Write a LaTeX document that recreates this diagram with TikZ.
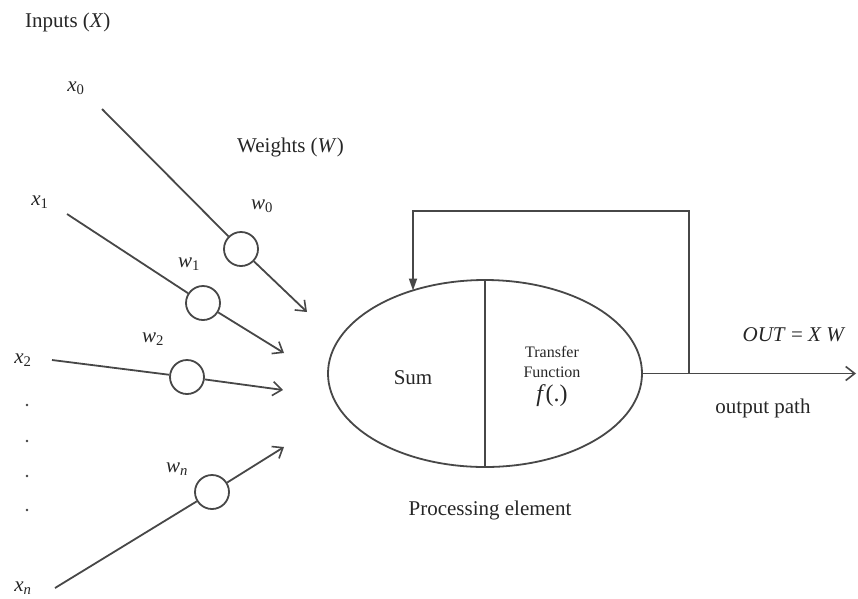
\documentclass[tikz,border=0pt]{standalone}
\usepackage{fontspec}
\setmainfont{Liberation Serif}
\usetikzlibrary{arrows.meta,shapes.geometric}
\newcommand{\iv}[2]{\textit{#1}\textsubscript{#2}}
\begin{document}
\begin{tikzpicture}[x=1pt,y=-1pt,
  ln/.style={draw=black!72,line width=1.8pt},
  wt/.style={circle,draw=black!72,line width=1.8pt,minimum size=34pt,inner sep=0pt},
  open/.style={-{Straight Barb[length=9pt,width=14pt,line width=1.6pt]}},
  lbl/.style={font=\fontsize{21}{24}\selectfont,text=black!85,inner sep=0pt},
  small/.style={font=\fontsize{16}{20}\selectfont,text=black!85,inner sep=0pt,align=center}]
\useasboundingbox (0,0) rectangle (858,598);
% labels
\node[lbl,anchor=west] (inl) at (25,22) {Inputs (\textit{X})};
\node[lbl,anchor=west] (wl) at (237,147) {Weights (\textit{W})};
% inputs
\node[lbl] (x0) at (76,88) {\iv{x}{0}};
\node[lbl] (x1) at (40,202) {\iv{x}{1}};
\node[lbl] (x2) at (23,360) {\iv{x}{2}};
\node[lbl] (xn) at (23,588) {\iv{x}{\textit{n}}};
\coordinate (s0) at (102,109);
\coordinate (s1) at (67,214);
\coordinate (s2) at (52,360);
\coordinate (sn) at (55,588);
% weights
\node[wt] (c0) at (241,249) {};
\node[wt] (c1) at (203,303) {};
\node[wt] (c2) at (187,377) {};
\node[wt] (cn) at (212,492) {};
\node[lbl] (w0) at (262,206) {\iv{w}{0}};
\node[lbl] (w1) at (189,264) {\iv{w}{1}};
\node[lbl] (w2) at (153,339) {\iv{w}{2}};
\node[lbl] (wn) at (177,469) {\iv{w}{\textit{n}}};
\coordinate (t0) at (307,312);
\coordinate (t1) at (284,353);
\coordinate (t2) at (283,390);
\coordinate (tn) at (284,447);
\draw[ln] (s0) -- (c0);
\draw[ln] (s1) -- (c1);
\draw[ln] (s2) -- (c2);
\draw[ln] (sn) -- (cn);
\draw[ln,open] (c0) -- (t0);
\draw[ln,open] (c1) -- (t1);
\draw[ln,open] (c2) -- (t2);
\draw[ln,open] (cn) -- (tn);
% dots
\foreach \yy in {405,441,476,510} \fill[black!75] (27,\yy) circle (1.4pt);
% processing element
\node[ellipse,draw=black!72,line width=1.8pt,minimum width=314pt,minimum height=187pt,inner sep=0pt] (pe) at (485,373.5) {};
\draw[ln] (pe.north) -- (pe.south);
\node[lbl] (sum) at (413,378) {Sum};
\node[small] (tf) at (552,362) {Transfer\\Function};
\node[font=\fontsize{24}{26}\selectfont,text=black!85,inner sep=0pt] (fn) at (552,396) {\textit{f}(.)};
\node[lbl] (pel) at (490,510) {Processing element};
% output
\coordinate (jn) at (689,373.5);
\coordinate (oe) at (856,373.5);
\coordinate (tr) at (689,211);
\coordinate (tl) at (413,211);
\coordinate (fb) at (413,290.5);
\draw[ln,open] (pe.east) -- (oe);
\draw[ln,-{Triangle[length=12pt,width=8pt]}] (jn) -- (tr) -- (tl) -- (fb);
\node[lbl] (out) at (794,335) {\textit{OUT} = \textit{X W}};
\node[lbl] (opl) at (763,408) {output path};
\end{tikzpicture}
\end{document}
